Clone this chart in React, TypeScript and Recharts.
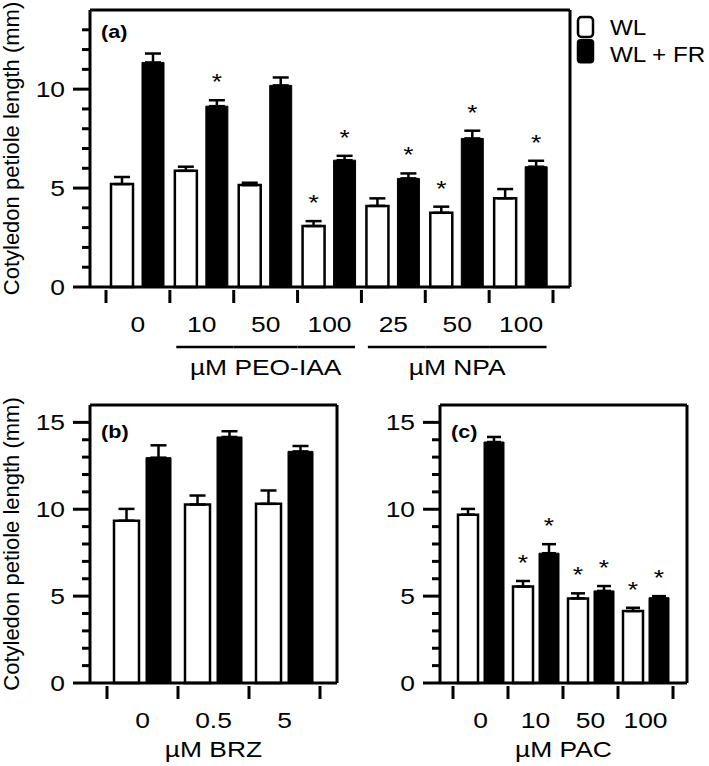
import React from 'react';
import { BarChart, Bar, XAxis, YAxis, ErrorBar, LabelList, Legend } from 'recharts';

const FONT = "'Liberation Sans', Arial, Helvetica, sans-serif";
const SX = 1.2;

// ---------- Panel (a) data ----------
const aCategories = ['0', '10', '50', '100', '25', '50', '100'];
const aWL = [5.2, 5.87, 5.15, 3.08, 4.1, 3.75, 4.48];
const aWLErr = [0.36, 0.21, 0.12, 0.25, 0.38, 0.31, 0.47];
const aFR = [11.35, 9.14, 10.19, 6.41, 5.49, 7.51, 6.08];
const aFRErr = [0.45, 0.3, 0.4, 0.22, 0.25, 0.39, 0.3];
const aWLStar = [0, 0, 0, 1, 0, 1, 0];
const aFRStar = [0, 1, 0, 1, 1, 1, 1];
const aGroupNames = ['µM PEO-IAA', 'µM NPA'];
const aGroupOf = [-1, 0, 0, 0, 1, 1, 1];
const aYTicks = [0, 1, 2, 3, 4, 5, 6, 7, 8, 9, 10, 11, 12, 13];

// ---------- Panel (b) data ----------
const bCategories = ['0', '0.5', '5'];
const bWL = [9.34, 10.27, 10.31];
const bWLErr = [0.68, 0.52, 0.77];
const bFR = [12.97, 14.16, 13.33];
const bFRErr = [0.71, 0.33, 0.31];
const bWLStar = [0, 0, 0];
const bFRStar = [0, 0, 0];
const bXTitle = 'µM BRZ';

// ---------- Panel (c) data ----------
const cCategories = ['0', '10', '50', '100'];
const cWL = [9.69, 5.55, 4.87, 4.14];
const cWLErr = [0.33, 0.32, 0.29, 0.19];
const cFR = [13.87, 7.47, 5.3, 4.91];
const cFRErr = [0.29, 0.52, 0.28, 0.09];
const cWLStar = [0, 1, 1, 1];
const cFRStar = [0, 1, 1, 1];
const cXTitle = 'µM PAC';

const bcYTicks = [0, 1, 2, 3, 4, 5, 6, 7, 8, 9, 10, 11, 12, 13, 14, 15];
const seriesNames = ['WL', 'WL + FR'];
const yTitle = 'Cotyledon petiole length (mm)';

const buildRows = (cats: string[], wl: number[], wlE: number[], fr: number[], frE: number[], wlS: number[], frS: number[]) =>
  cats.map((c, i) => ({
    cat: c,
    wl: wl[i],
    wlErr: [0, wlE[i]],
    fr: fr[i],
    frErr: [0, frE[i]],
    wlStar: wlS[i],
    frStar: frS[i],
  }));

const aRows = buildRows(aCategories, aWL, aWLErr, aFR, aFRErr, aWLStar, aFRStar);
const bRows = buildRows(bCategories, bWL, bWLErr, bFR, bFRErr, bWLStar, bFRStar);
const cRows = buildRows(cCategories, cWL, cWLErr, cFR, cFRErr, cWLStar, cFRStar);

const HText = ({ x, y, anchor = 'middle', size = 22, bold = false, sx = SX, children }: any) => (
  <text
    transform={`translate(${x},${y}) scale(${sx},1)`}
    x={0}
    y={0}
    textAnchor={anchor}
    fontSize={size}
    fontWeight={bold ? 'bold' : 'normal'}
    fontFamily={FONT}
    fill="#000"
  >
    {children}
  </text>
);

const starLabel = (values: number[], errs: number[], flags: number[]) => (props: any) => {
  const i = props.index;
  if (i == null || !flags[i]) return null;
  const vb = props.viewBox || {};
  const x = props.x ?? vb.x;
  const y = props.y ?? vb.y;
  const w = props.width ?? vb.width;
  const h = props.height ?? vb.height;
  const pxPerUnit = h / values[i];
  const capY = y - errs[i] * pxPerUnit;
  return <HText x={x + w / 2} y={capY - 11}>*</HText>;
};

const YTick = (props: any) => {
  const { x, y, payload } = props;
  const major = payload.value % 5 === 0;
  return (
    <g>
      <line x1={x - (major ? 17 : 8)} x2={x} y1={y} y2={y} stroke="#000" strokeWidth={3} />
      {major && (
        <HText x={x - 25} y={y + 8} anchor="end">
          {payload.value}
        </HText>
      )}
    </g>
  );
};

const makeXTick = (band: number, n: number, groupOf?: number[], groupNames?: string[]) => (props: any) => {
  const { x, y, payload, index } = props;
  const half = band / 2;
  const g = groupOf ? groupOf[index] : -1;
  let bracket: any = null;
  if (groupOf && g >= 0) {
    const prevSame = index > 0 && groupOf[index - 1] === g;
    const nextSame = index < n - 1 && groupOf[index + 1] === g;
    const x1 = prevSame ? x - half : x - 25.5;
    const x2 = nextSame ? x + half : x + 25.5;
    bracket = (
      <g>
        <line x1={x1} x2={x2} y1={y + 60} y2={y + 60} stroke="#000" strokeWidth={2.5} />
        {prevSame && nextSame && groupNames && (
          <HText x={x} y={y + 87.5}>
            {groupNames[g]}
          </HText>
        )}
      </g>
    );
  }
  return (
    <g>
      <line x1={x - half} x2={x - half} y1={y + 3} y2={y + 16} stroke="#000" strokeWidth={3} />
      {index === n - 1 && <line x1={x + half} x2={x + half} y1={y + 3} y2={y + 16} stroke="#000" strokeWidth={3} />}
      <HText x={x} y={y + 44.5}>
        {payload.value}
      </HText>
      {bracket}
    </g>
  );
};

const YTitle = (props: any) => {
  const vb = props.viewBox || { x: 0, y: 0, width: 90, height: 278 };
  const cx = vb.x + 18.5;
  const cy = vb.y + vb.height / 2;
  return (
    <text x={cx} y={cy} transform={`rotate(-90 ${cx} ${cy})`} textAnchor="middle" fontSize={22} fontFamily={FONT} fill="#000">
      {yTitle}
    </text>
  );
};

const PanelTag = (props: any) => {
  const vb = props.viewBox || { x: 90, y: 10 };
  return (
    <HText x={vb.x + 11} y={vb.y + 1 + props.dy} anchor="start" size={18} bold>
      {props.text}
    </HText>
  );
};

const XTitle = (props: any) => {
  const vb = props.viewBox || { x: 90, y: 303, width: 247 };
  return <HText x={vb.x + vb.width / 2} y={vb.y + 74}>{props.text}</HText>;
};

const LegendBox = () => (
  <svg width={137} height={60} style={{ display: 'block' }}>
    <rect x={6} y={5} width={15} height={20} rx={3.5} fill="#fff" stroke="#000" strokeWidth={2.5} />
    <rect x={4.75} y={27} width={17.5} height={24.5} rx={4} fill="#000" />
    <HText x={38} y={23} anchor="start" sx={1.1}>{seriesNames[0]}</HText>
    <HText x={38} y={50} anchor="start" sx={1.1}>{seriesNames[1]}</HText>
  </svg>
);

const axisLine = { stroke: '#000', strokeWidth: 3 };

type PanelProps = {
  rows: any[];
  width: number;
  height: number;
  margin: any;
  xAxisHeight: number;
  padding: { left: number; right: number };
  yMax: number;
  yTicks: number[];
  barSize: number;
  barGap: number;
  capHalf: number;
  tag: string;
  tagDy: number;
  showYTitle: boolean;
  xTitle?: string;
  groupOf?: number[];
  groupNames?: string[];
  values: { wl: number[]; wlE: number[]; fr: number[]; frE: number[]; wlS: number[]; frS: number[] };
  legend?: boolean;
};

const Panel = (p: PanelProps) => {
  const plotW = p.width - p.margin.left - p.margin.right - 90 - 1;
  const band = (plotW - p.padding.left - p.padding.right) / p.rows.length;
  return (
    <BarChart width={p.width} height={p.height} data={p.rows} margin={p.margin} barGap={p.barGap}>
      <XAxis
        dataKey="cat"
        height={p.xAxisHeight}
        padding={p.padding}
        interval={0}
        tickSize={0}
        tickMargin={0}
        tickLine={false}
        axisLine={axisLine}
        tick={makeXTick(band, p.rows.length, p.groupOf, p.groupNames)}
        label={p.xTitle ? <XTitle text={p.xTitle} /> : undefined}
      />
      <XAxis
        xAxisId="top"
        dataKey="cat"
        orientation="top"
        height={1}
        interval={0}
        tick={false}
        tickLine={false}
        axisLine={axisLine}
        label={<PanelTag text={p.tag} dy={p.tagDy} />}
      />
      <YAxis
        type="number"
        width={90}
        domain={[0, p.yMax]}
        ticks={p.yTicks}
        interval={0}
        tickSize={0}
        tickMargin={0}
        tickLine={false}
        axisLine={axisLine}
        tick={YTick}
        label={p.showYTitle ? <YTitle /> : undefined}
      />
      <YAxis
        yAxisId="right"
        orientation="right"
        type="number"
        width={1}
        domain={[0, p.yMax]}
        ticks={p.yTicks}
        tick={false}
        tickLine={false}
        axisLine={axisLine}
      />
      {p.legend && (
        <Legend
          layout="horizontal"
          verticalAlign="middle"
          align="center"
          wrapperStyle={{ left: 572, top: 12, width: 137, height: 60 }}
          content={<LegendBox />}
        />
      )}
      <Bar dataKey="wl" name={seriesNames[0]} fill="#fff" stroke="#000" strokeWidth={2.5} barSize={p.barSize} isAnimationActive={false}>
        <ErrorBar dataKey="wlErr" direction="y" width={p.capHalf} stroke="#000" strokeWidth={2.5} />
        <LabelList dataKey="wlStar" content={starLabel(p.values.wl, p.values.wlE, p.values.wlS)} />
      </Bar>
      <Bar dataKey="fr" name={seriesNames[1]} fill="#000" stroke="#000" strokeWidth={1} barSize={p.barSize} isAnimationActive={false}>
        <ErrorBar dataKey="frErr" direction="y" width={p.capHalf} stroke="#000" strokeWidth={2.5} />
        <LabelList dataKey="frStar" content={starLabel(p.values.fr, p.values.frE, p.values.frS)} />
      </Bar>
    </BarChart>
  );
};

export default function App() {
  return (
    <div style={{ position: 'absolute', left: 0, top: 0, width: 709, height: 766, background: '#fff' }}>
      <div style={{ position: 'absolute', left: 0, top: 0 }}>
        <Panel
          rows={aRows}
          width={709}
          height={380}
          margin={{ top: 9, right: 138, bottom: 0, left: 0 }}
          xAxisHeight={93}
          padding={{ left: 16, right: 17 }}
          yMax={14}
          yTicks={aYTicks}
          barSize={22}
          barGap={9}
          capHalf={8}
          tag="(a)"
          tagDy={28}
          showYTitle
          groupOf={aGroupOf}
          groupNames={aGroupNames}
          values={{ wl: aWL, wlE: aWLErr, fr: aFR, frE: aFRErr, wlS: aWLStar, frS: aFRStar }}
          legend
        />
      </div>
      <div style={{ position: 'absolute', left: 0, top: 380 }}>
        <Panel
          rows={bRows}
          width={350}
          height={386}
          margin={{ top: 24, right: 12, bottom: 0, left: 0 }}
          xAxisHeight={83}
          padding={{ left: 17, right: 17 }}
          yMax={16}
          yTicks={bcYTicks}
          barSize={25}
          barGap={7}
          capHalf={8}
          tag="(b)"
          tagDy={33}
          showYTitle
          xTitle={bXTitle}
          values={{ wl: bWL, wlE: bWLErr, fr: bFR, frE: bFRErr, wlS: bWLStar, frS: bFRStar }}
        />
      </div>
      <div style={{ position: 'absolute', left: 350, top: 380 }}>
        <Panel
          rows={cRows}
          width={359}
          height={386}
          margin={{ top: 24, right: 21, bottom: 0, left: 0 }}
          xAxisHeight={83}
          padding={{ left: 13, right: 14 }}
          yMax={16}
          yTicks={bcYTicks}
          barSize={20}
          barGap={6}
          capHalf={7}
          tag="(c)"
          tagDy={33}
          showYTitle={false}
          xTitle={cXTitle}
          values={{ wl: cWL, wlE: cWLErr, fr: cFR, frE: cFRErr, wlS: cWLStar, frS: cFRStar }}
        />
      </div>
    </div>
  );
}
